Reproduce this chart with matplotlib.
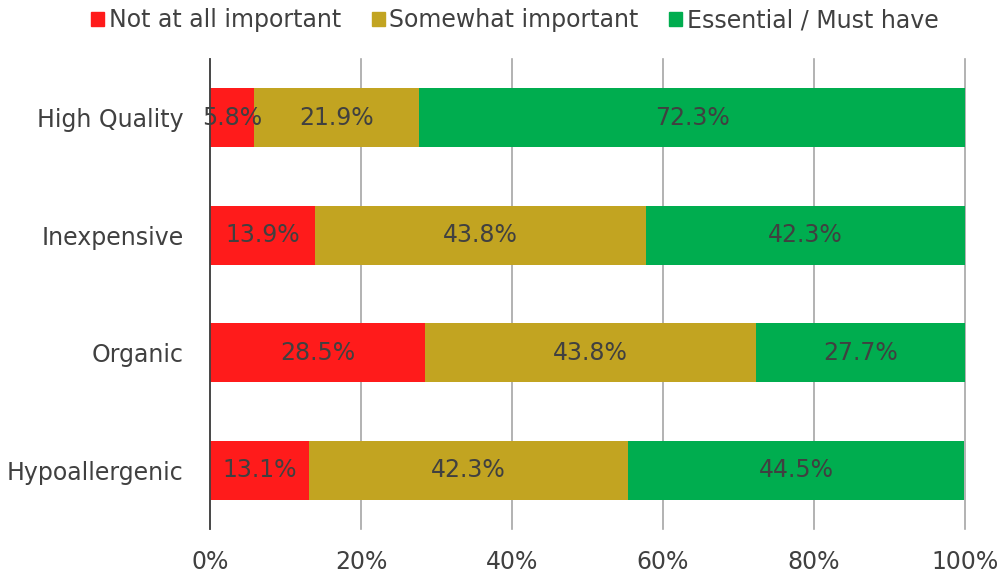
import matplotlib
matplotlib.use("Agg")
import matplotlib.pyplot as plt
from matplotlib.patches import Patch
import numpy as np

categories = ["High Quality", "Inexpensive", "Organic", "Hypoallergenic"]
series_names = ["Not at all important", "Somewhat important", "Essential / Must have"]
not_important = [5.8, 13.9, 28.5, 13.1]
somewhat = [21.9, 43.8, 43.8, 42.3]
essential = [72.3, 42.3, 27.7, 44.5]
colors = ["#FF1B1B", "#C2A421", "#00AD4F"]
xticks = [0, 20, 40, 60, 80, 100]

txt = "#404040"
fs = 17
fig = plt.figure(figsize=(10.02, 5.79), dpi=100)
ax = fig.add_axes([210/1002, 1-529/579, 755/1002, 470/579])

y = np.arange(len(categories))
left = np.zeros(len(categories))
data = [not_important, somewhat, essential]
for vals, c, name in zip(data, colors, series_names):
    vals = np.array(vals)
    ax.barh(y, vals, left=left, height=0.5, color=c, zorder=3, label=name)
    for yi, l, v in zip(y, left, vals):
        ax.text(l + v/2, yi, f"{v:.1f}%", ha="center", va="center", fontsize=fs, color=txt, zorder=4)
    left = left + vals

ax.set_xlim(0, 100)
ax.set_ylim(len(categories)-0.5, -0.5)
ax.set_yticks(y)
ax.set_yticklabels(categories, fontsize=fs, color=txt)
ax.set_xticks(xticks)
ax.set_xticklabels([f"{t}%" for t in xticks], fontsize=fs, color=txt)
ax.tick_params(axis="both", length=0)
ax.tick_params(axis="y", pad=19)
ax.tick_params(axis="x", pad=15)
for t in xticks:
    ax.axvline(t, color="#A6A6A6", linewidth=1.2, zorder=0, clip_on=False)
for s in ["top", "right", "bottom"]:
    ax.spines[s].set_visible(False)
ax.spines["left"].set_color("#404040")
ax.spines["left"].set_linewidth(1.3)
ax.spines["left"].set_zorder(5)

handles = [Patch(color=c) for c in colors]
fig.legend(handles, series_names, loc="center", bbox_to_anchor=(515/1002, 1-20/579), ncol=3,
           frameon=False, fontsize=fs, labelcolor=txt, handlelength=0.55, handleheight=0.55,
           handletextpad=0.2, columnspacing=1.3, borderpad=0, borderaxespad=0)

fig.savefig("out.png", dpi=100)
